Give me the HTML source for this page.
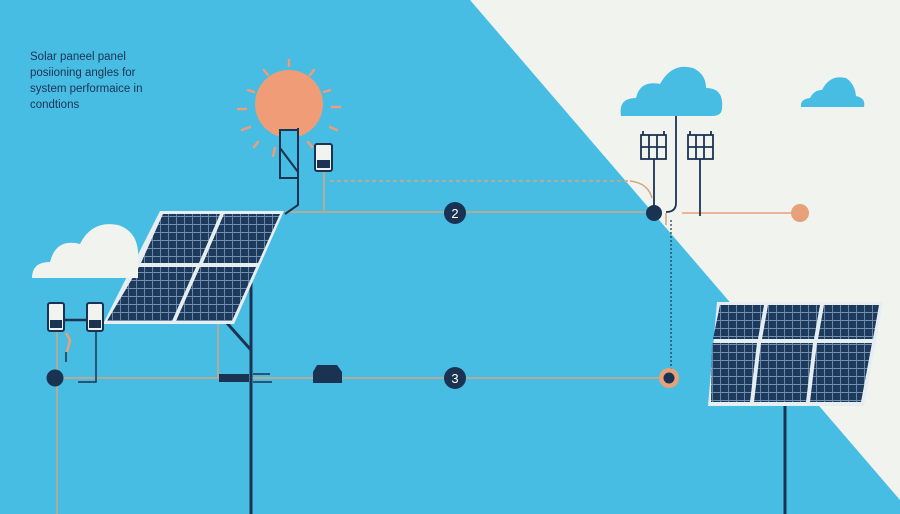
<!DOCTYPE html>
<html><head><meta charset="utf-8"><style>
html,body{margin:0;padding:0;width:900px;height:514px;overflow:hidden;background:#47bde4}
svg{display:block}
</style></head><body>
<svg width="900" height="514" viewBox="0 0 900 514" xmlns="http://www.w3.org/2000/svg">
<defs>
<pattern id="cells" width="8" height="8" patternUnits="userSpaceOnUse">
<rect width="8" height="8" fill="#1d3a5c"/>
<path d="M0 0.5H8M0.5 0V8" stroke="#6f8fae" stroke-width="0.9"/>
</pattern>
</defs>
<rect width="900" height="514" fill="#47bde4"/>
<polygon points="470,0 900,0 900,500" fill="#f1f4ee"/>
<text font-family="Liberation Sans, sans-serif" font-size="11.5" fill="#1b3352">
<tspan x="30" y="60">Solar paneel panel</tspan>
<tspan x="30" y="76">posiioning angles for</tspan>
<tspan x="30" y="92">system performaice in</tspan>
<tspan x="30" y="108">condtions</tspan></text>
<!-- sun -->
<circle cx="289" cy="104" r="34" fill="#f09c76"/>
<g stroke="#f09c76" stroke-width="2.5" stroke-linecap="round">
<line x1="289" y1="60" x2="289" y2="66"/><line x1="264" y1="70" x2="268" y2="75"/><line x1="314" y1="70" x2="310" y2="75"/>
<line x1="248" y1="90" x2="254" y2="92"/><line x1="330" y1="90" x2="324" y2="92"/>
<line x1="238" y1="109" x2="246" y2="109"/><line x1="332" y1="107" x2="340" y2="107"/>
<line x1="242" y1="130" x2="250" y2="127"/><line x1="330" y1="127" x2="337" y2="130"/>
<line x1="254" y1="147" x2="258" y2="142"/><line x1="308" y1="142" x2="312" y2="147"/>
<line x1="273" y1="156" x2="275" y2="148"/>
</g>
<!-- lines -->
<g stroke="#d6a57c" stroke-width="1.5" fill="none">
<line x1="285" y1="212" x2="646" y2="212"/>
<line x1="330" y1="181" x2="630" y2="181" stroke-dasharray="4 3"/>
<path d="M630 181 Q648 183 652 198"/>
<line x1="324" y1="172" x2="324" y2="212"/>
<line x1="682" y1="213" x2="792" y2="213" stroke="#e8a07a"/>
<line x1="666" y1="213" x2="666" y2="225"/>
<line x1="55" y1="378" x2="660" y2="378"/>
<line x1="57" y1="330" x2="57" y2="514"/>
<line x1="218" y1="322" x2="218" y2="378"/>
</g>
<line x1="671" y1="220" x2="671" y2="370" stroke="#1b3352" stroke-width="1.2" stroke-dasharray="2 2"/>
<!-- sun box & meters -->
<g fill="none" stroke="#1b3352" stroke-width="2">
<rect x="280" y="130" width="18" height="48" fill="#48bde4"/>
<path d="M280 148 L298 172"/>
<path d="M298 128 V205 L285 214"/>
</g>
<rect x="315" y="144" width="17" height="27" rx="2" fill="#f1f4ee" stroke="#1b3352" stroke-width="2"/>
<rect x="317" y="160" width="13" height="8" fill="#1b3352"/>
<!-- left panel & pole -->
<line x1="251" y1="265" x2="251" y2="514" stroke="#1b3352" stroke-width="3"/>
<line x1="226" y1="322" x2="251" y2="350" stroke="#1b3352" stroke-width="3"/>
<polygon points="160,211 284,211 234,324 103,324" fill="#e6eef2"/>
<polygon points="163,214 220,214 199,263 141,263" fill="url(#cells)"/>
<polygon points="224,214 280,214 258,263 203,263" fill="url(#cells)"/>
<polygon points="139,267 196,267 172,321 107,321" fill="url(#cells)"/>
<polygon points="200,267 256,267 232,321 176,321" fill="url(#cells)"/>
<rect x="219" y="374" width="30" height="8" fill="#1b3352"/>
<line x1="253" y1="374" x2="270" y2="374" stroke="#1b3352" stroke-width="1.5"/>
<line x1="253" y1="382" x2="272" y2="382" stroke="#1b3352" stroke-width="1.5"/>
<path d="M313 383 V372 L317 365 H337 L342 372 V383 Z" fill="#1b3352"/>
<!-- left meters -->
<rect x="48" y="303" width="16" height="28" rx="2" fill="#f1f4ee" stroke="#1b3352" stroke-width="2"/>
<rect x="50" y="320" width="12" height="8" fill="#1b3352"/>
<rect x="87" y="303" width="16" height="28" rx="2" fill="#f1f4ee" stroke="#1b3352" stroke-width="2"/>
<rect x="89" y="320" width="12" height="8" fill="#1b3352"/>
<line x1="64" y1="320" x2="87" y2="320" stroke="#1b3352" stroke-width="2.5"/>
<path d="M96 331 V382 H78" fill="none" stroke="#1b3352" stroke-width="1.5"/>
<path d="M66 333 L70 340 L67 352" fill="none" stroke="#e8a07a" stroke-width="2.5"/>
<line x1="66" y1="352" x2="66" y2="362" stroke="#1b3352" stroke-width="1.5"/>
<circle cx="55" cy="378" r="8.5" fill="#1b3352"/>
<!-- left cloud -->
<path d="M32 278 Q32 262 50 262 Q56 238 80 244 Q92 220 118 225 Q140 232 138 260 L138 278 Z" fill="#f1f4ee"/>
<!-- numbered badges -->
<circle cx="455" cy="213" r="11" fill="#1b3352"/>
<text x="455" y="218" font-family="Liberation Sans, sans-serif" font-size="13" fill="#fff" text-anchor="middle">2</text>
<circle cx="455" cy="378" r="11" fill="#1b3352"/>
<text x="455" y="383" font-family="Liberation Sans, sans-serif" font-size="13" fill="#fff" text-anchor="middle">3</text>
<!-- right top clouds -->
<path d="M621 116 Q618 98 636 98 Q640 80 660 84 Q672 62 693 68 Q706 74 706 88 Q724 88 722 108 Q722 116 712 116 Z" fill="#47bde4"/>
<path d="M801 107 Q800 99 810 98 Q814 90 822 90 Q830 74 846 78 Q855 84 856 96 Q866 98 864 107 Z" fill="#47bde4"/>
<!-- mini panels -->
<g stroke="#1b3352" stroke-width="1.8" fill="none">
<rect x="641" y="135" width="25" height="24"/>
<path d="M641 147H666M649 135V159M657 135V159M643 131V135M664 131V135"/>
<rect x="688" y="135" width="25" height="24"/>
<path d="M688 147H713M696 135V159M704 135V159M690 131V135M711 131V135"/>
<line x1="654" y1="159" x2="654" y2="210"/>
<line x1="700" y1="159" x2="700" y2="216"/>
<path d="M676 116 V203 Q676 212 666 212"/>
</g>
<circle cx="654" cy="213" r="8" fill="#1b3352"/>
<circle cx="800" cy="213" r="9" fill="#e8a07a"/>
<circle cx="669" cy="378" r="10" fill="#e8a07a"/>
<circle cx="669" cy="378" r="5.5" fill="#1b3352"/>
<!-- right panel -->
<line x1="785" y1="400" x2="785" y2="514" stroke="#1b3352" stroke-width="3"/>
<polygon points="717,302 883,302 864,406 708,406" fill="#e6eef2"/>
<polygon points="720,305 764,305 758,339 713,339" fill="url(#cells)"/>
<polygon points="768,305 820,305 814,339 762,339" fill="url(#cells)"/>
<polygon points="824,305 879,305 873,339 818,339" fill="url(#cells)"/>
<polygon points="712,343 757,343 750,402 711,402" fill="url(#cells)"/>
<polygon points="761,343 813,343 806,402 754,402" fill="url(#cells)"/>
<polygon points="817,343 872,343 861,402 810,402" fill="url(#cells)"/>
</svg>
</body></html>
